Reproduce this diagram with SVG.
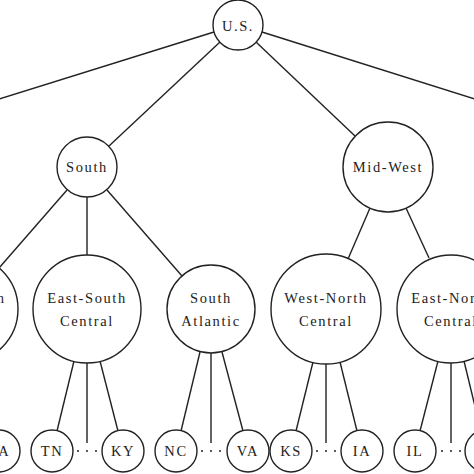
<svg xmlns="http://www.w3.org/2000/svg" width="474" height="474" viewBox="0 0 474 474">
<style>
.n{fill:#fff;stroke:#222;stroke-width:1.4}
.e line{stroke:#222;stroke-width:1.4}
text{font-family:"Liberation Serif","DejaVu Serif",serif;font-size:14.5px;fill:#222;text-anchor:middle;letter-spacing:1.6px}
.d{fill:#222}
</style>
<rect width="474" height="474" fill="#fff"/>
<g class="e">
<line x1="214" y1="32" x2="-20" y2="105"/>
<line x1="262" y1="32" x2="494" y2="105"/>
<line x1="220" y1="42" x2="109" y2="146"/>
<line x1="256" y1="42" x2="355" y2="136"/>
<line x1="67" y1="190" x2="-1" y2="268"/>
<line x1="87" y1="197" x2="87" y2="255"/>
<line x1="107" y1="190" x2="182" y2="276"/>
<line x1="370" y1="208" x2="348" y2="259"/>
<line x1="406" y1="208" x2="429" y2="258"/>
<line x1="-23" y1="361" x2="-6" y2="431"/>
<line x1="74" y1="361" x2="57" y2="431"/>
<line x1="87" y1="363" x2="87" y2="443"/>
<line x1="100" y1="361" x2="118" y2="431"/>
<line x1="200" y1="352" x2="181" y2="431"/>
<line x1="211" y1="353" x2="211" y2="443"/>
<line x1="222" y1="352" x2="243" y2="431"/>
<line x1="313" y1="362" x2="296" y2="431"/>
<line x1="326" y1="364" x2="326" y2="443"/>
<line x1="340" y1="362" x2="357" y2="431"/>
<line x1="438" y1="361" x2="420" y2="431"/>
<line x1="451" y1="363" x2="451" y2="443"/>
<line x1="464" y1="361" x2="481" y2="431"/>
</g>
<g id="us"><circle class="n" cx="238" cy="25" r="25"/><text x="238" y="31">U.S.</text></g>
<g id="south"><circle class="n" cx="87" cy="167" r="30"/><text x="87" y="172">South</text></g>
<g id="midwest"><circle class="n" cx="388" cy="167" r="45"/><text x="388" y="172">Mid-West</text></g>
<g id="wsc"><circle class="n" cx="-36" cy="309" r="54"/><text x="-36" y="303">West-South</text><text x="-36" y="326">Central</text></g>
<g id="esc"><circle class="n" cx="87" cy="309" r="54"/><text x="87" y="303">East-South</text><text x="87" y="326">Central</text></g>
<g id="sa"><circle class="n" cx="211" cy="309" r="44"/><text x="211" y="303">South</text><text x="211" y="326">Atlantic</text></g>
<g id="wnc"><circle class="n" cx="326" cy="309" r="55"/><text x="326" y="303">West-North</text><text x="326" y="326">Central</text></g>
<g id="enc"><circle class="n" cx="451" cy="309" r="54"/><text x="451" y="303">East-North</text><text x="451" y="326">Central</text></g>
<g id="la"><circle class="n" cx="-1" cy="451" r="21"/><text x="-1" y="456">LA</text></g>
<g id="tn"><circle class="n" cx="52" cy="451" r="21"/><text x="52" y="456">TN</text></g>
<g id="ky"><circle class="n" cx="123" cy="451" r="21"/><text x="123" y="456">KY</text></g>
<g id="nc"><circle class="n" cx="176" cy="451" r="21"/><text x="176" y="456">NC</text></g>
<g id="va"><circle class="n" cx="248" cy="451" r="21"/><text x="248" y="456">VA</text></g>
<g id="ks"><circle class="n" cx="291" cy="451" r="21"/><text x="291" y="456">KS</text></g>
<g id="ia"><circle class="n" cx="362" cy="451" r="21"/><text x="362" y="456">IA</text></g>
<g id="il"><circle class="n" cx="415" cy="451" r="21"/><text x="415" y="456">IL</text></g>
<g id="leafR"><circle class="n" cx="486" cy="451" r="21"/></g>
<g id="dots">
<circle class="d" cx="78" cy="451" r="1"/><circle class="d" cx="87" cy="451" r="1"/><circle class="d" cx="96" cy="451" r="1"/>
<circle class="d" cx="202" cy="451" r="1"/><circle class="d" cx="211" cy="451" r="1"/><circle class="d" cx="220" cy="451" r="1"/>
<circle class="d" cx="317" cy="451" r="1"/><circle class="d" cx="326" cy="451" r="1"/><circle class="d" cx="335" cy="451" r="1"/>
<circle class="d" cx="442" cy="451" r="1"/><circle class="d" cx="451" cy="451" r="1"/><circle class="d" cx="460" cy="451" r="1"/>
</g>
</svg>
